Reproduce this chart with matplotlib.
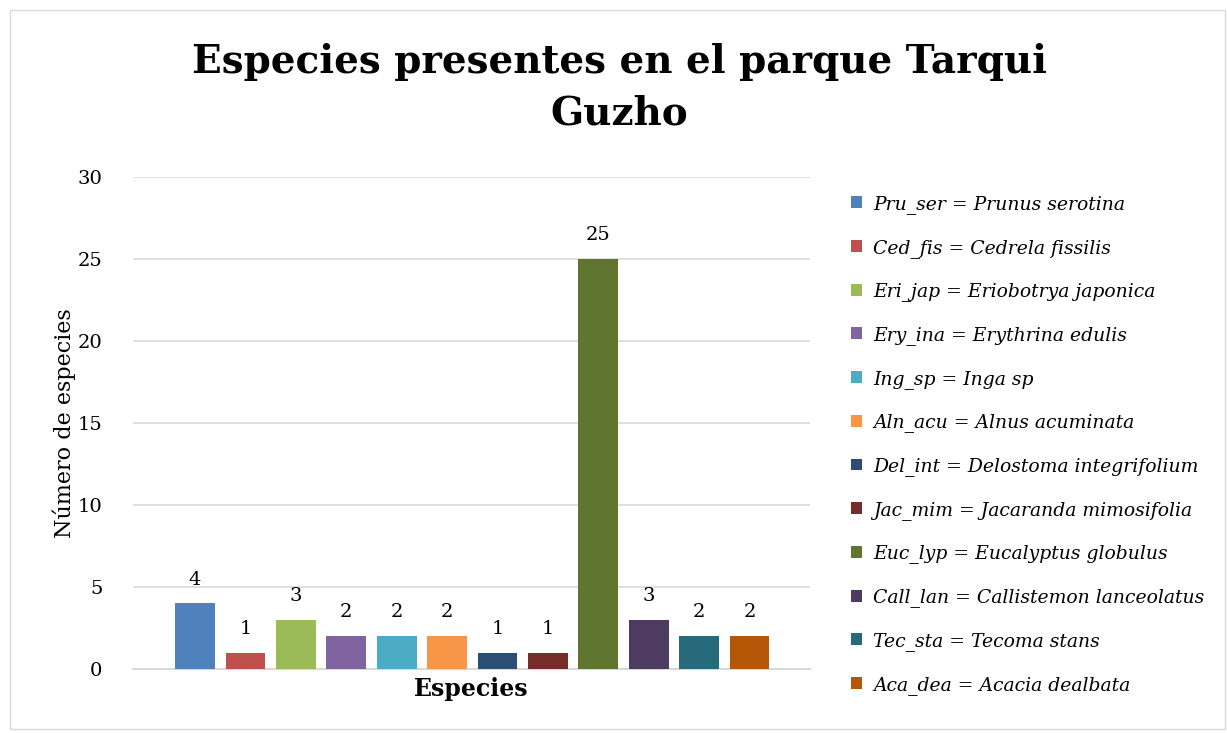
import numpy as np
import matplotlib.pyplot as plt
from matplotlib.patches import Rectangle

# datos
codigos = ['Pru_ser', 'Ced_fis', 'Eri_jap', 'Ery_ina', 'Ing_sp', 'Aln_acu',
           'Del_int', 'Jac_mim', 'Euc_lyp', 'Call_lan', 'Tec_sta', 'Aca_dea']
nombres = ['Prunus serotina', 'Cedrela fissilis', 'Eriobotrya japonica',
           'Erythrina edulis', 'Inga sp', 'Alnus acuminata',
           'Delostoma integrifolium', 'Jacaranda mimosifolia',
           'Eucalyptus globulus', 'Callistemon lanceolatus', 'Tecoma stans',
           'Acacia dealbata']
valores = [4, 1, 3, 2, 2, 2, 1, 1, 25, 3, 2, 2]
colores = ['#4F81BD', '#C0504D', '#9BBB59', '#8064A2', '#4BACC6', '#F79646',
           '#2C4D75', '#772C2A', '#5F7530', '#4D3B62', '#276A7C', '#B65708']
yticks = [0, 5, 10, 15, 20, 25, 30]

plt.rcParams['font.family'] = ['DejaVu Serif']

fig = plt.figure(figsize=(12.27, 7.33), dpi=100)
# borde del area del grafico
fig.patches.append(Rectangle((10 / 1227, 0.005), 1215 / 1227, 1 - 10 / 733 - 0.005,
                             transform=fig.transFigure, fill=False,
                             edgecolor='#d9d9d9', linewidth=1))

ax = fig.add_axes([133 / 1227, 1 - 669 / 733, (810 - 133) / 1227, (669 - 177) / 733])
x = np.arange(len(valores))
for i in range(len(valores)):
    ax.bar(x[i], valores[i], width=0.79, color=colores[i], zorder=3,
           label=codigos[i] + ' = ' + nombres[i])
    ax.text(x[i], valores[i] + 0.9, str(valores[i]), ha='center', va='bottom',
            fontsize=14)

ax.set_xlim(-1.23, 12.2)
ax.set_ylim(0, 30)
ax.set_yticks(yticks)
ax.set_xticks([])
ax.grid(axis='y', color='#d9d9d9', linewidth=1.2, zorder=0)
for s in ['top', 'right', 'left']:
    ax.spines[s].set_visible(False)
ax.spines['bottom'].set_color('#d9d9d9')
ax.spines['bottom'].set_linewidth(1.5)
ax.tick_params(axis='y', length=0, labelsize=14, pad=22)
ax.set_ylabel('Número de especies', fontsize=16, labelpad=1)
ax.set_xlabel('Especies', fontsize=17, fontweight='bold', labelpad=6)

fig.text(0.505, 1 - 88 / 733, 'Especies presentes en el parque Tarqui\nGuzho',
         fontsize=28, fontweight='bold', ha='center', va='center',
         linespacing=1.45)

leg = ax.legend(loc='upper left', bbox_to_anchor=(834 / 1227, 1 - 178 / 733),
                bbox_transform=fig.transFigure, frameon=False,
                prop={'style': 'italic', 'size': 13.5}, handlelength=0.6,
                handleheight=0.6, handletextpad=0.6, labelspacing=1.32)

plt.savefig('out.png', dpi=100)
